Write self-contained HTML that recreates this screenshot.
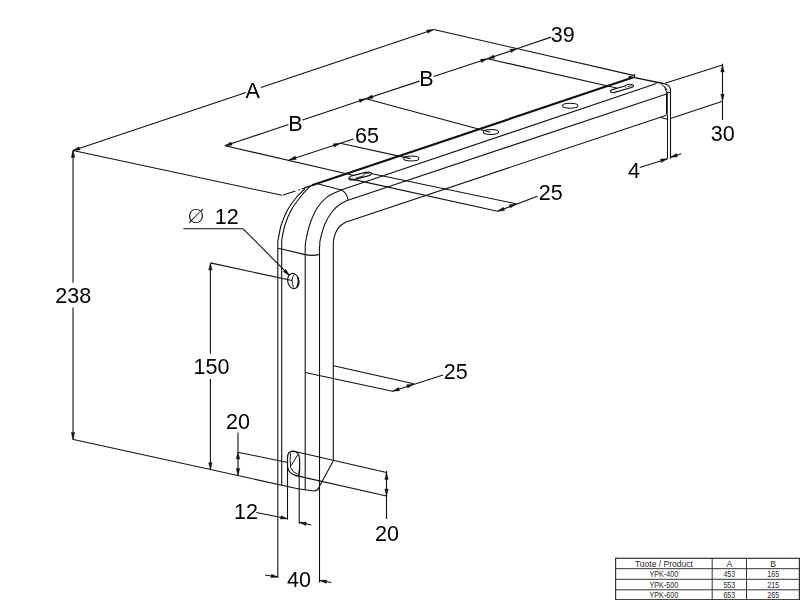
<!DOCTYPE html>
<html><head><meta charset="utf-8"><title>YPK bracket</title>
<style>
html,body{margin:0;padding:0;background:#fff;}
body{width:800px;height:600px;overflow:hidden;}
svg{display:block;}
svg text{font-family:"Liberation Sans",sans-serif;}
</style></head><body>
<svg width="800" height="600" viewBox="0 0 800 600">
<rect width="800" height="600" fill="#fff"/>
<g fill="none" stroke="#111" stroke-linecap="butt" stroke-linejoin="round">
<line x1="312.00" y1="185.30" x2="633.50" y2="77.30" stroke-width="2.1" />
<line x1="304.50" y1="187.90" x2="313.00" y2="185.00" stroke-width="1.2" />
<line x1="633.50" y1="77.30" x2="663.00" y2="83.50" stroke-width="1.3" />
<line x1="341.00" y1="190.10" x2="656.50" y2="83.40" stroke-width="1.1" />
<line x1="348.00" y1="200.20" x2="666.50" y2="94.00" stroke-width="1.1" />
<line x1="350.00" y1="220.70" x2="666.50" y2="115.20" stroke-width="1.1" />
<line x1="660.50" y1="117.50" x2="667.50" y2="119.25" stroke-width="1.1" />
<path d="M662.5,83.4 L664.5,83.75 Q669.6,84.6 670.5,89.5 L670.5,158.75" stroke-width="1.1" />
<path d="M661.5,84.25 Q665.8,86.5 666.5,92.3 L670.5,92.5" stroke-width="1.0" />
<line x1="664.50" y1="86.50" x2="667.30" y2="90.50" stroke-width="1.0" />
<line x1="666.90" y1="92.30" x2="666.90" y2="114.50" stroke-width="1.8" />
<line x1="667.50" y1="114.50" x2="667.50" y2="158.75" stroke-width="1.0" />
<line x1="628.60" y1="77.00" x2="631.50" y2="76.60" stroke-width="1.8" />
<line x1="634.60" y1="74.00" x2="634.60" y2="77.00" stroke-width="1.0" />
<path d="M278.10,240.00 C278.62,237.50 279.68,230.00 281.25,225.00 C282.82,220.00 285.00,214.58 287.50,210.00 C290.00,205.42 293.33,201.04 296.25,197.50 C299.17,193.96 303.54,190.21 305.00,188.75" stroke-width="1.1" />
<path d="M281.70,240.00 C282.25,237.50 283.41,230.00 285.00,225.00 C286.59,220.00 288.75,214.58 291.25,210.00 C293.75,205.42 297.08,201.23 300.00,197.50 C302.92,193.77 306.67,189.58 308.75,187.60 C310.83,185.62 311.88,185.93 312.50,185.60" stroke-width="1.1" />
<path d="M305.30,246.00 C305.42,245.00 305.22,243.71 306.00,240.00 C306.78,236.29 308.08,229.17 310.00,223.75 C311.92,218.33 314.58,212.03 317.50,207.50 C320.42,202.97 323.54,199.52 327.50,196.60 C331.46,193.68 338.96,191.10 341.25,190.00" stroke-width="1.1" />
<path d="M319.80,246.00 C319.87,245.00 319.33,243.71 320.20,240.00 C321.07,236.29 322.95,228.54 325.00,223.75 C327.05,218.96 330.00,214.49 332.50,211.25 C335.00,208.01 337.40,206.16 340.00,204.30 C342.60,202.44 346.75,200.80 348.10,200.10" stroke-width="1.1" />
<path d="M333.30,248.00 C333.35,246.67 333.15,242.67 333.60,240.00 C334.05,237.33 334.93,234.33 336.00,232.00 C337.07,229.67 338.50,227.57 340.00,226.00 C341.50,224.43 343.33,223.48 345.00,222.60 C346.67,221.72 349.17,221.02 350.00,220.70" stroke-width="1.1" />
<line x1="317.50" y1="183.80" x2="341.25" y2="190.00" stroke-width="1.1" />
<path d="M341.25,190.0 Q347,192.5 348.1,200.1" stroke-width="1.1" />
<line x1="277.80" y1="240.00" x2="277.80" y2="577.50" stroke-width="1.1" />
<line x1="281.70" y1="240.00" x2="281.70" y2="485.00" stroke-width="1.1" />
<line x1="305.20" y1="246.00" x2="305.20" y2="490.00" stroke-width="1.1" />
<line x1="319.50" y1="246.00" x2="319.50" y2="582.50" stroke-width="1.1" />
<line x1="333.30" y1="248.00" x2="333.30" y2="460.50" stroke-width="1.1" />
<line x1="278.10" y1="248.20" x2="305.20" y2="254.60" stroke-width="1.1" />
<path d="M305.2,254.6 Q312,256.2 319.7,254.4" stroke-width="1.1" />
<path d="M300,489 L313.5,491 Q318.5,491 319.8,485.5 L333.5,460.5" stroke-width="1.1" />
<ellipse cx="411.3" cy="158.5" rx="7.7" ry="2.5" stroke-width="1.05"/>
<ellipse cx="490.9" cy="132.0" rx="7.7" ry="2.5" stroke-width="1.05"/>
<ellipse cx="570.2" cy="105.7" rx="7.7" ry="2.5" stroke-width="1.05"/>
<path d="M350.6,176.2 L365.5,172.4 Q371,171.6 371.3,173.4 Q371.3,174.9 369,175.6 L353.5,179.8 Q349,180.5 348.7,178.5 Q348.7,176.9 350.6,176.2 Z" stroke-width="1.2" />
<line x1="355.40" y1="178.10" x2="363.50" y2="175.90" stroke-width="0.9" />
<path d="M363.5,175.9 L364.7,173.5 L369.5,173.2" stroke-width="0.8" />
<path d="M612.2,89.6 L625,86.0 Q626,84.6 629,84.3 Q633.3,84.0 633.5,85.8 Q633.5,87.0 631.5,87.5 L614.5,92.4 Q610.6,93.0 610.4,91.3 Q610.4,90.2 612.2,89.6 Z" stroke-width="1.15" />
<path d="M625.4,86.6 Q625.6,87.6 626.2,88.2" stroke-width="0.8" />
<line x1="627.50" y1="86.60" x2="632.00" y2="85.70" stroke-width="0.8" />
<ellipse cx="293.3" cy="281" rx="5.6" ry="7.7" transform="rotate(-12 293.3 281)" stroke-width="1.1"/>
<path d="M294.5,274.2 Q290.2,279 293.6,287.5" stroke-width="0.9" />
<path d="M297.6,277 Q299.6,282 297,287" stroke-width="1.6" />
<path d="M287.5,457.5 Q287.7,451.3 292.8,451.1 Q299.3,451.5 299.6,459 L299.6,470.5 Q299.3,476.5 296,475.6 Q288,473 287.5,466.5 Z" stroke-width="1.2" />
<path d="M290.6,453.2 Q289.6,460 290.6,467.5 Q292.5,472.5 297.3,474" stroke-width="1.0" />
<line x1="297.60" y1="455.00" x2="291.30" y2="465.50" stroke-width="1.0" />
<line x1="73.00" y1="150.50" x2="246.00" y2="92.47" stroke-width="1.1" />
<line x1="261.00" y1="87.44" x2="433.75" y2="29.50" stroke-width="1.1" />
<polygon points="73.00,150.50 78.99,146.65 80.10,149.96" fill="#111" stroke="#111" stroke-width="0.4"/>
<polygon points="433.75,29.50 427.76,33.35 426.65,30.04" fill="#111" stroke="#111" stroke-width="0.4"/>
<line x1="73.00" y1="150.50" x2="282.00" y2="195.30" stroke-width="1.1" />
<line x1="283.00" y1="195.00" x2="295.50" y2="191.00" stroke-width="1.1" />
<line x1="298.20" y1="190.10" x2="299.60" y2="189.70" stroke-width="1.1" />
<line x1="301.50" y1="189.00" x2="305.00" y2="188.00" stroke-width="1.1" />
<line x1="433.75" y1="29.50" x2="634.40" y2="75.60" stroke-width="1.1" />
<line x1="73.00" y1="150.50" x2="73.00" y2="282.80" stroke-width="1.1" />
<line x1="73.00" y1="307.40" x2="73.00" y2="439.00" stroke-width="1.1" />
<polygon points="73.00,150.50 74.75,157.40 71.25,157.40" fill="#111" stroke="#111" stroke-width="0.4"/>
<polygon points="73.00,439.30 71.25,432.40 74.75,432.40" fill="#111" stroke="#111" stroke-width="0.4"/>
<line x1="72.40" y1="439.30" x2="300.00" y2="489.20" stroke-width="1.1" />
<line x1="225.00" y1="145.75" x2="288.50" y2="124.58" stroke-width="1.1" />
<line x1="302.50" y1="119.92" x2="366.00" y2="98.75" stroke-width="1.1" />
<polygon points="225.00,145.75 230.99,141.91 232.10,145.23" fill="#111" stroke="#111" stroke-width="0.4"/>
<polygon points="366.00,98.75 360.01,102.59 358.90,99.27" fill="#111" stroke="#111" stroke-width="0.4"/>
<line x1="225.00" y1="145.75" x2="353.00" y2="175.20" stroke-width="1.1" />
<line x1="289.20" y1="159.90" x2="353.50" y2="139.01" stroke-width="1.1" />
<polygon points="289.20,159.90 295.19,156.06 296.30,159.38" fill="#111" stroke="#111" stroke-width="0.4"/>
<polygon points="340.30,143.30 334.31,147.14 333.20,143.82" fill="#111" stroke="#111" stroke-width="0.4"/>
<line x1="340.30" y1="143.30" x2="410.50" y2="158.60" stroke-width="1.1" />
<line x1="366.00" y1="98.75" x2="419.50" y2="81.14" stroke-width="1.1" />
<line x1="433.50" y1="76.53" x2="487.50" y2="58.75" stroke-width="1.1" />
<polygon points="366.00,98.75 371.99,94.91 373.10,98.23" fill="#111" stroke="#111" stroke-width="0.4"/>
<polygon points="487.50,58.75 481.51,62.59 480.40,59.27" fill="#111" stroke="#111" stroke-width="0.4"/>
<line x1="366.00" y1="98.75" x2="490.50" y2="132.20" stroke-width="1.1" />
<line x1="487.50" y1="58.75" x2="551.00" y2="37.12" stroke-width="1.1" />
<polygon points="487.50,58.75 493.49,54.91 494.60,58.23" fill="#111" stroke="#111" stroke-width="0.4"/>
<polygon points="517.00,48.70 511.01,52.54 509.90,49.22" fill="#111" stroke="#111" stroke-width="0.4"/>
<line x1="487.50" y1="58.75" x2="616.60" y2="88.00" stroke-width="1.1" />
<line x1="371.00" y1="173.50" x2="516.25" y2="203.75" stroke-width="1.1" />
<line x1="349.50" y1="178.60" x2="497.50" y2="211.25" stroke-width="1.1" />
<line x1="497.50" y1="211.25" x2="537.50" y2="196.25" stroke-width="1.1" />
<polygon points="497.50,211.25 503.35,207.19 504.58,210.47" fill="#111" stroke="#111" stroke-width="0.4"/>
<polygon points="516.25,203.90 510.40,207.96 509.17,204.68" fill="#111" stroke="#111" stroke-width="0.4"/>
<line x1="722.50" y1="63.75" x2="722.50" y2="120.00" stroke-width="1.1" />
<polygon points="722.50,65.00 724.25,71.90 720.75,71.90" fill="#111" stroke="#111" stroke-width="0.4"/>
<polygon points="722.50,101.25 720.75,94.35 724.25,94.35" fill="#111" stroke="#111" stroke-width="0.4"/>
<line x1="665.00" y1="83.25" x2="722.50" y2="65.00" stroke-width="1.1" />
<line x1="670.50" y1="118.50" x2="722.50" y2="101.25" stroke-width="1.1" />
<line x1="639.80" y1="167.40" x2="667.50" y2="158.75" stroke-width="1.1" />
<polygon points="667.50,158.75 661.42,162.45 660.39,159.11" fill="#111" stroke="#111" stroke-width="0.4"/>
<line x1="681.25" y1="153.75" x2="670.50" y2="157.30" stroke-width="1.1" />
<polygon points="670.50,157.30 676.51,153.49 677.60,156.82" fill="#111" stroke="#111" stroke-width="0.4"/>
<line x1="183.30" y1="228.80" x2="243.10" y2="228.80" stroke-width="1.1" />
<line x1="243.10" y1="228.80" x2="289.40" y2="275.40" stroke-width="1.1" />
<polygon points="289.40,275.40 283.32,271.69 285.82,269.24" fill="#111" stroke="#111" stroke-width="0.4"/>
<line x1="210.40" y1="263.50" x2="210.40" y2="353.50" stroke-width="1.1" />
<line x1="210.40" y1="379.00" x2="210.40" y2="469.60" stroke-width="1.1" />
<polygon points="210.40,263.20 212.15,270.10 208.65,270.10" fill="#111" stroke="#111" stroke-width="0.4"/>
<polygon points="210.40,469.60 208.65,462.70 212.15,462.70" fill="#111" stroke="#111" stroke-width="0.4"/>
<line x1="210.30" y1="262.90" x2="292.00" y2="280.50" stroke-width="1.1" />
<line x1="238.00" y1="432.50" x2="238.00" y2="475.50" stroke-width="1.1" />
<polygon points="238.00,452.20 239.75,459.10 236.25,459.10" fill="#111" stroke="#111" stroke-width="0.4"/>
<polygon points="238.00,475.50 236.25,468.60 239.75,468.60" fill="#111" stroke="#111" stroke-width="0.4"/>
<line x1="238.00" y1="452.20" x2="287.50" y2="462.50" stroke-width="1.1" />
<line x1="287.50" y1="466.00" x2="287.50" y2="519.50" stroke-width="1.1" />
<line x1="299.20" y1="470.00" x2="299.20" y2="523.75" stroke-width="1.1" />
<line x1="256.25" y1="512.50" x2="287.50" y2="518.75" stroke-width="1.1" />
<polygon points="287.50,518.75 280.39,519.11 281.08,515.68" fill="#111" stroke="#111" stroke-width="0.4"/>
<line x1="311.25" y1="525.00" x2="299.20" y2="522.30" stroke-width="1.1" />
<polygon points="299.20,522.30 306.32,522.11 305.55,525.52" fill="#111" stroke="#111" stroke-width="0.4"/>
<line x1="265.00" y1="575.00" x2="278.10" y2="577.00" stroke-width="1.1" />
<polygon points="278.10,577.00 271.01,577.68 271.55,574.22" fill="#111" stroke="#111" stroke-width="0.4"/>
<line x1="331.25" y1="582.50" x2="319.70" y2="580.50" stroke-width="1.1" />
<polygon points="319.70,580.50 326.80,579.96 326.20,583.41" fill="#111" stroke="#111" stroke-width="0.4"/>
<line x1="386.50" y1="471.00" x2="386.50" y2="519.00" stroke-width="1.1" />
<polygon points="386.50,472.50 388.25,479.40 384.75,479.40" fill="#111" stroke="#111" stroke-width="0.4"/>
<polygon points="386.50,496.00 384.75,489.10 388.25,489.10" fill="#111" stroke="#111" stroke-width="0.4"/>
<line x1="292.75" y1="451.00" x2="386.50" y2="472.50" stroke-width="1.1" />
<line x1="296.25" y1="475.60" x2="386.50" y2="496.00" stroke-width="1.1" />
<line x1="333.50" y1="365.75" x2="413.75" y2="383.75" stroke-width="1.1" />
<line x1="305.20" y1="372.50" x2="392.50" y2="391.25" stroke-width="1.1" />
<line x1="392.50" y1="391.25" x2="443.00" y2="375.00" stroke-width="1.1" />
<polygon points="392.50,391.25 398.49,387.41 399.60,390.73" fill="#111" stroke="#111" stroke-width="0.4"/>
<polygon points="413.75,384.20 407.76,388.04 406.65,384.72" fill="#111" stroke="#111" stroke-width="0.4"/>
</g>
<g fill="#000" stroke="none" style="opacity:0.999">
<text transform="translate(252.70,98.00) scale(0.945,1)" font-size="22.80" text-anchor="middle" >A</text>
<text transform="translate(73.30,302.80) scale(0.945,1)" font-size="22.80" text-anchor="middle" >238</text>
<text transform="translate(295.50,130.50) scale(0.945,1)" font-size="22.80" text-anchor="middle" >B</text>
<text transform="translate(355.00,142.50) scale(0.945,1)" font-size="22.80" text-anchor="start" >65</text>
<text transform="translate(426.50,86.00) scale(0.945,1)" font-size="22.80" text-anchor="middle" >B</text>
<text transform="translate(550.70,42.00) scale(0.945,1)" font-size="22.80" text-anchor="start" >39</text>
<text transform="translate(538.80,200.30) scale(0.945,1)" font-size="22.80" text-anchor="start" >25</text>
<text transform="translate(722.80,141.25) scale(0.945,1)" font-size="22.80" text-anchor="middle" >30</text>
<text transform="translate(634.00,178.40) scale(0.945,1)" font-size="22.80" text-anchor="middle" >4</text>
<text transform="translate(196.1,222.9) scale(1.17,1)" font-size="19" text-anchor="middle" style="font-family:'DejaVu Sans Light','DejaVu Sans','Liberation Sans',sans-serif">Ø</text>
<text transform="translate(214.80,223.80) scale(0.945,1)" font-size="22.80" text-anchor="start" >12</text>
<text transform="translate(211.50,374.00) scale(0.945,1)" font-size="22.80" text-anchor="middle" >150</text>
<text transform="translate(238.00,429.00) scale(0.945,1)" font-size="22.80" text-anchor="middle" >20</text>
<text transform="translate(234.00,519.30) scale(0.945,1)" font-size="22.80" text-anchor="start" >12</text>
<text transform="translate(299.00,587.00) scale(0.945,1)" font-size="22.80" text-anchor="middle" >40</text>
<text transform="translate(387.00,541.25) scale(0.945,1)" font-size="22.80" text-anchor="middle" >20</text>
<text transform="translate(443.80,379.00) scale(0.945,1)" font-size="22.80" text-anchor="start" >25</text>
</g>
<g stroke="#333" stroke-width="1" fill="none">
<rect x="615.6" y="558.3" width="183.8" height="41.4" stroke-width="1.2"/>
<line x1="615.5" y1="568.7" x2="799.5" y2="568.7"/>
<line x1="615.5" y1="579.3" x2="799.5" y2="579.3"/>
<line x1="615.5" y1="589.8" x2="799.5" y2="589.8"/>
<line x1="712.2" y1="558.5" x2="712.2" y2="599.5"/>
<line x1="746.5" y1="558.5" x2="746.5" y2="599.5"/>
</g>
<g font-size="8.7" fill="#2a2a2a" stroke="none" text-anchor="middle" style="opacity:0.999">
<text x="663.9" y="566.9" textLength="58" lengthAdjust="spacingAndGlyphs">Tuote / Product</text><text x="729.3" y="566.9">A</text><text x="773.2" y="566.9">B</text>
<text x="663.9" y="577.4" textLength="28.6" lengthAdjust="spacingAndGlyphs">YPK-400</text><text x="729.3" y="577.4" textLength="11.8" lengthAdjust="spacingAndGlyphs">453</text><text x="773.2" y="577.4" textLength="11.8" lengthAdjust="spacingAndGlyphs">165</text>
<text x="663.9" y="587.8" textLength="28.6" lengthAdjust="spacingAndGlyphs">YPK-500</text><text x="729.3" y="587.8" textLength="11.8" lengthAdjust="spacingAndGlyphs">553</text><text x="773.2" y="587.8" textLength="11.8" lengthAdjust="spacingAndGlyphs">215</text>
<text x="663.9" y="598.0" textLength="28.6" lengthAdjust="spacingAndGlyphs">YPK-600</text><text x="729.3" y="598.0" textLength="11.8" lengthAdjust="spacingAndGlyphs">653</text><text x="773.2" y="598.0" textLength="11.8" lengthAdjust="spacingAndGlyphs">265</text>
</g>
</svg>
</body></html>
